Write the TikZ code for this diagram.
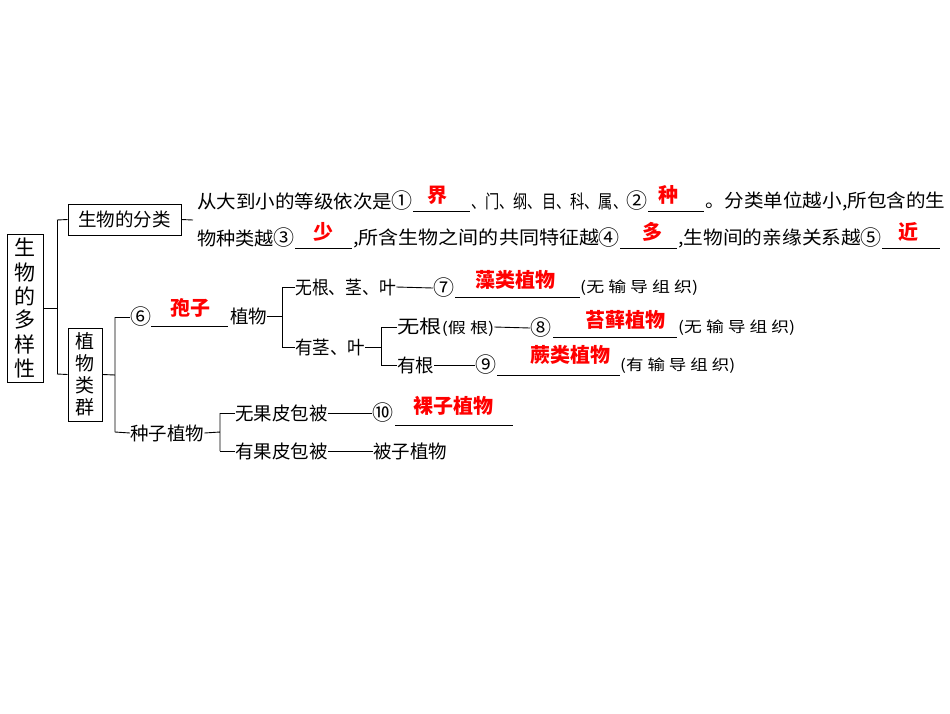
\documentclass[tikz,border=0pt]{standalone}
\usepackage{fontspec}
\usepackage{graphicx}
\setmainfont{Noto Sans CJK SC}
\newcommand\fitw[2]{\resizebox{#1pt}{\height}{#2}}
\newcommand\cn[1]{{\fontsize{21}{22}\selectfont #1}}
\begin{document}
\begin{tikzpicture}[x=1pt,y=-1pt,
  t/.style={inner sep=0pt,anchor=west,font=\fontsize{18.5}{20}\selectfont},
  te/.style={inner sep=0pt,anchor=east,font=\fontsize{18.5}{20}\selectfont},
  sm/.style={inner sep=0pt,anchor=west,font=\fontsize{15}{16}\selectfont},
  ans/.style={inner sep=0pt,text=red,font=\fontsize{20}{22}\selectfont\bfseries},
  bx/.style={draw,line width=1pt,inner sep=0pt},
  ln/.style={line width=0.9pt},
  bl/.style={line width=0.5pt}]
\useasboundingbox (0,0) rectangle (950,713);
% main box
\node[bx,minimum width=36pt,minimum height=148pt,font=\fontsize{21}{24}\selectfont,align=center] (main) at (25,308) {生\\物\\的\\多\\样\\性};
\node[bx,minimum width=113pt,minimum height=31pt,font=\fontsize{18.5}{20}\selectfont] (cls) at (124.5,219.5) {生物的分类};
\node[bx,minimum width=34pt,minimum height=93pt,font=\fontsize{19}{22}\selectfont,align=center] (grp) at (85,374.5) {植\\物\\类\\群};
\coordinate (j1) at (57,308);
\draw[ln] (main.east) -- (j1) (57,220) -- (57,374);
\draw[ln] (57,220) -- (cls.west) (57,374) -- (grp.west);
\draw[ln] (cls.east) -- (193,220);
% classification lines
\node[t] (l1a) at (197,201) {\fitw{195}{从大到小的等级依次是}};
\node[te] (c1) at (413,201) {\cn{①}};
\draw[bl] (413,211) -- (470,211);
\node[ans] (a1) at (437,195) {界};
\node[t] (l1b) at (471,201) {\fitw{156}{、门、纲、目、科、属、}};
\node[te] (c2) at (648,201) {\cn{②}};
\draw[bl] (648,211) -- (704,211);
\node[ans] (a2) at (668,195) {种};
\node[t] (l1c) at (705,201) {\fitw{240}{。分类单位越小,所包含的生}};
\node[t] (l2a) at (197,238) {\fitw{77}{物种类越}};
\node[te] (c3) at (295,238) {\cn{③}};
\draw[bl] (295,248) -- (352,248);
\node[ans] (a3) at (323,232) {少};
\node[t] (l2b) at (353,238) {\fitw{246}{,所含生物之间的共同特征越}};
\node[te] (c4) at (620,238) {\cn{④}};
\draw[bl] (620,248) -- (677,248);
\node[ans] (a4) at (652,232) {多};
\node[t] (l2c) at (678,238) {\fitw{183}{,生物间的亲缘关系越}};
\node[te] (c5) at (882,238) {\cn{⑤}};
\draw[bl] (882,248) -- (940,248);
\node[ans] (a5) at (908,232) {近};
% plant groups
\draw[ln] (grp.east) -- (115,375) (115,317) -- (115,432);
\node[t] (c6) at (130,317) {\cn{⑥}};
\draw[ln] (115,317) -- (c6.west);
\draw[bl] (151,326) -- (228,326);
\node[ans] (a6) at (190,308) {孢子};
\node[t] (zw) at (230,316) {植物};
\draw[ln] (zw.east) -- (282,316) (282,287) -- (282,347);
\node[t] (n1) at (295,287) {\fitw{101}{无根、茎、叶}};
\draw[ln] (282,287) -- (n1.west);
\node[t] (c7) at (433,288) {\cn{⑦}};
\draw[ln] (n1.east) -- (c7.west);
\draw[bl] (455,297) -- (580,297);
\node[ans] (a7) at (515,280) {藻类植物};
\node[sm] (s7) at (580,288) {\fitw{118}{(无 输 导 组 织)}};
\node[t] (n2) at (295,347) {\fitw{70}{有茎、叶}};
\draw[ln] (282,347) -- (n2.west);
\draw[ln] (n2.east) -- (381,347) (381,327) -- (381,365);
\node[t] (n3) at (397,327) {\fitw{97}{无根{\fontsize{15}{16}\selectfont(假 根)}}};
\draw[ln] (381,327) -- (n3.west);
\node[t] (c8) at (530,328) {\cn{⑧}};
\draw[ln] (n3.east) -- (c8.west);
\draw[bl] (553,337) -- (677,337);
\node[ans] (a8) at (625,320) {苔藓植物};
\node[sm] (s8) at (678,328) {\fitw{117}{(无 输 导 组 织)}};
\node[t] (n4) at (397,365) {有根};
\draw[ln] (381,365) -- (n4.west);
\node[t] (c9) at (475,365) {\cn{⑨}};
\draw[ln] (n4.east) -- (c9.west);
\draw[bl] (497,375) -- (620,375);
\node[ans] (a9) at (570,355) {蕨类植物};
\node[sm] (s9) at (620,366) {\fitw{115}{(有 输 导 组 织)}};
\node[t] (sp) at (130,433) {种子植物};
\draw[ln] (115,432) -- (sp.west);
\draw[ln] (sp.east) -- (220,432) (220,413) -- (220,451);
\node[t] (n5) at (235,413) {无果皮包被};
\draw[ln] (220,413) -- (n5.west);
\node[t] (c10) at (372,413) {\cn{⑩}};
\draw[ln] (n5.east) -- (c10.west);
\draw[bl] (395,425) -- (513,425);
\node[ans] (a10) at (453,406) {裸子植物};
\node[t] (n6) at (235,451) {有果皮包被};
\draw[ln] (220,451) -- (n6.west);
\node[t] (bz) at (373,451) {被子植物};
\draw[ln] (n6.east) -- (bz.west);
\end{tikzpicture}
\end{document}
